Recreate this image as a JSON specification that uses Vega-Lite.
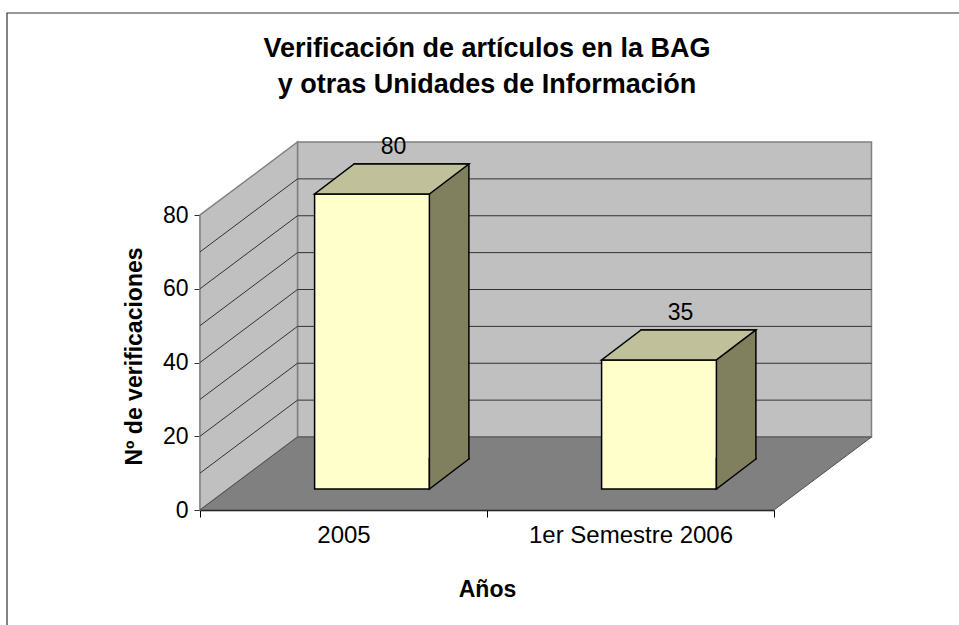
{
  "$schema": "https://vega.github.io/schema/vega-lite/v6.json",
  "width": 574,
  "height": 295,
  "autosize": {"type": "none"},
  "padding": {"left": 200, "top": 215, "right": 185, "bottom": 115},
  "background": "white",
  "title": {
    "text": ["Verificación de artículos en la BAG", "y otras Unidades de Información"],
    "font": "Liberation Sans",
    "fontSize": 27,
    "fontWeight": "bold",
    "lineHeight": 36,
    "anchor": "middle",
    "offset": -88,
    "color": "black"
  },
  "config": {
    "view": {"stroke": null},
    "font": "Liberation Sans",
    "axis": {"labelOverlap": false},
    "axisQuantitative": {"labelOverlap": false, "tickCount": 8},
    "axisY": {
      "titleFont": "Liberation Sans", "titleFontSize": 23, "titleFontWeight": "bold", "titleColor": "black", "titlePadding": 16,
      "titleY": 141,
      "labelOverlap": false,
      "labelFont": "Liberation Sans", "labelFontSize": 23, "labelColor": "black", "labelPadding": 6,
      "tickSize": 6, "tickColor": "#333333", "domainColor": "#333333", "domainWidth": 1.5, "grid": false
    },
    "axisX": {
      "titleFont": "Liberation Sans", "titleFontSize": 23, "titleFontWeight": "bold", "titleColor": "black", "titlePadding": 31,
      "labelFont": "Liberation Sans", "labelFontSize": 24, "labelColor": "black", "labelAngle": 0, "labelPadding": 6, "labelLimit": 400,
      "tickSize": 7, "tickBand": "extent", "tickColor": "black", "domainColor": "black", "domainWidth": 1.5, "grid": false
    }
  },
  "datasets": {
    "bars": [
      {"periodo": "2005", "verificaciones": 80},
      {"periodo": "1er Semestre 2006", "verificaciones": 35}
    ],
    "grid": [
      {"nivel": 10}, {"nivel": 20}, {"nivel": 30}, {"nivel": 40},
      {"nivel": 50}, {"nivel": 60}, {"nivel": 70}
    ],
    "one": [{}]
  },
  "layer": [
    {
      "data": {"name": "one"},
      "mark": {"type": "point", "shape": "M-4.8,1.2 L-4.8,-4.97 L4.8,-4.97", "size": 40000, "filled": false, "stroke": "#333333", "strokeWidth": 1.2, "opacity": 1},
      "encoding": {"y": {
        "datum": 0, "type": "quantitative",
        "scale": {"domain": [0, 80], "nice": false},
        "axis": {"title": "Nº de verificaciones", "values": [0, 10, 20, 30, 40, 50, 60, 70, 80], "labelOverlap": false, "tickCount": 8}
      }}
    },
    {
      "data": {"name": "one"},
      "mark": {"type": "point", "shape": "M-1.895,-0.73 L3.845,-0.73 L3.845,-3.68 L-1.895,-3.68 Z", "size": 40000, "filled": true, "fill": "#C0C0C0", "stroke": "#808080", "strokeWidth": 1.5, "opacity": 1},
      "encoding": {"y": {"datum": 0, "type": "quantitative"}}
    },
    {
      "data": {"name": "one"},
      "mark": {"type": "point", "shape": "M-2.87,0 L-2.87,-2.95 L-1.895,-3.68 L-1.895,-0.73 Z", "size": 40000, "filled": true, "fill": "#C0C0C0", "stroke": "#808080", "strokeWidth": 1.5, "opacity": 1},
      "encoding": {"y": {"datum": 0, "type": "quantitative"}}
    },
    {
      "data": {"name": "one"},
      "mark": {"type": "point", "shape": "M-2.87,0 L2.87,0 L3.845,-0.73 L-1.895,-0.73 Z", "size": 40000, "filled": true, "fill": "#808080", "stroke": "#505050", "strokeWidth": 1, "opacity": 1},
      "encoding": {"y": {"datum": 0, "type": "quantitative"}}
    },
    {
      "data": {"name": "grid"},
      "mark": {"type": "point", "shape": "M-2.87,0 L-1.895,-0.73 L3.845,-0.73", "size": 40000, "filled": false, "stroke": "#333333", "strokeWidth": 1, "opacity": 1},
      "encoding": {"y": {"field": "nivel", "type": "quantitative"}}
    },
    {
      "data": {"name": "bars"},
      "mark": {"type": "bar", "width": {"band": 0.4}, "xOffset": 68, "yOffset": -51, "y2Offset": -51, "fill": "#80805F", "stroke": "black", "strokeWidth": 1.5},
      "encoding": {
        "x": {
          "field": "periodo", "type": "nominal", "sort": null,
          "scale": {"paddingInner": 0, "paddingOuter": 0},
          "axis": {"title": "Años"}
        },
        "y": {"field": "verificaciones", "type": "quantitative"}
      }
    },
    {
      "data": {"name": "bars"},
      "mark": {"type": "bar", "width": {"band": 0.4}, "xOffset": 28.5, "yOffset": -21, "y2Offset": -21, "fill": "#FFFFCC", "stroke": "black", "strokeWidth": 1.5},
      "encoding": {
        "x": {"field": "periodo", "type": "nominal", "sort": null},
        "y": {"field": "verificaciones", "type": "quantitative"}
      }
    },
    {
      "data": {"name": "bars"},
      "mark": {"type": "point", "shape": "M-0.289,-0.21 L0.859,-0.21 L1.254,-0.51 L0.106,-0.51 Z", "size": 40000, "filled": true, "fill": "#C0C09B", "stroke": "black", "strokeWidth": 1.5, "opacity": 1},
      "encoding": {
        "x": {"field": "periodo", "type": "nominal", "sort": null},
        "y": {"field": "verificaciones", "type": "quantitative"}
      }
    },
    {
      "data": {"name": "bars"},
      "mark": {"type": "point", "shape": "M0.859,-0.525 L0.859,-0.21 L1.254,-0.51 L1.254,-0.525", "size": 40000, "filled": true, "fill": "#80805F", "stroke": "black", "strokeWidth": 1.5, "opacity": 1},
      "encoding": {
        "x": {"field": "periodo", "type": "nominal", "sort": null},
        "y": {"datum": 0, "type": "quantitative"}
      }
    },
    {
      "data": {"name": "bars"},
      "mark": {"type": "text", "dx": 50, "dy": -68, "fontSize": 23, "font": "Liberation Sans", "color": "black", "align": "center", "baseline": "middle"},
      "encoding": {
        "x": {"field": "periodo", "type": "nominal", "sort": null},
        "y": {"field": "verificaciones", "type": "quantitative"},
        "text": {"field": "verificaciones", "type": "quantitative"}
      }
    }
  ]
}
